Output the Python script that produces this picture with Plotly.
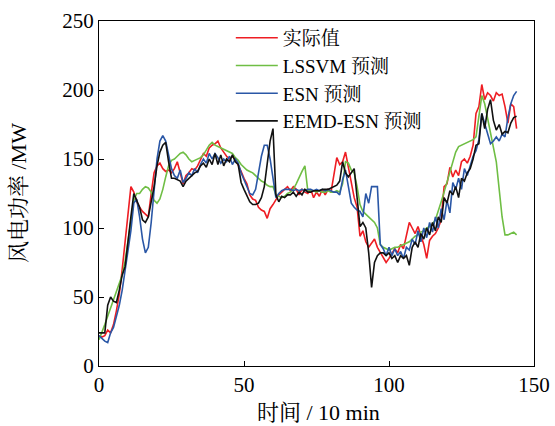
import plotly.graph_objects as go

# Time index (units of 10 min)
t = list(range(145))

# Measured wind power (MW)
actual = [22, 21, 22, 26, 24, 30, 40, 52, 70, 90, 112, 130, 126, 119, 115, 112, 110, 108, 125, 140,
          145, 147, 143, 141, 142, 140, 143, 148, 140, 132, 138, 140, 143, 142, 145, 150, 154, 152, 158, 160,
          161, 163, 158, 155, 152, 150, 152, 150, 146, 141, 136, 132, 124, 121, 120, 115, 113, 112, 107, 114,
          117, 121, 124, 126, 128, 130, 127, 130, 128, 124, 128, 126, 125, 128, 122, 126, 123, 128, 124, 128,
          126, 140, 151, 146, 148, 155, 144, 132, 122, 115, 94, 98, 90, 86, 89, 92, 86, 82, 78, 75,
          78, 82, 85, 82, 88, 85, 95, 104, 100, 96, 101, 94, 88, 78, 91, 94, 96, 100, 106, 130,
          132, 144, 137, 142, 138, 148, 150, 147, 152, 160, 183, 188, 204, 193, 198, 196, 192, 198, 196, 197,
          188, 176, 190, 188, 172]

# LSSVM forecast (MW)
lssvm = [19, 24, 30, 36, 42, 48, 54, 60, 66, 76, 92, 108, 120, 125, 125, 128, 130, 129, 126, 120,
         118, 121, 128, 137, 145, 149, 150, 152, 154, 155, 153, 150, 148, 149, 150, 151, 153, 157, 160, 162,
         160, 159, 158, 157, 156, 155, 154, 151, 149, 146, 144, 142, 141, 140, 138, 136, 134, 133, 131, 130,
         130, 124, 123, 122, 123, 125, 126, 128, 132, 137, 141, 145, 127, 127, 127, 126, 127, 126, 126, 127,
         126, 126, 127, 126, 132, 148, 147, 142, 140, 130, 117, 112, 110, 108, 106, 104, 100, 88, 86, 85,
         84, 85, 86, 86, 87, 88, 89, 90, 92, 94, 95, 97, 98, 100, 101, 103, 106, 112, 119, 126,
         133, 140, 148, 155, 159, 160, 161, 162, 163, 164, 166, 180, 196, 190, 180, 170, 160, 148, 128, 108,
         95, 95, 96, 97, 95]

# ESN forecast (MW)
esn = [22, 20, 18, 17, 24, 28, 36, 44, 55, 70, 85, 98, 118, 121, 108, 92, 82, 86, 104, 128,
       150, 163, 167, 163, 152, 143, 138, 136, 142, 133, 136, 140, 138, 143, 140, 146, 150, 147, 154, 150,
       154, 151, 147, 150, 148, 152, 146, 150, 147, 140, 135, 130, 125, 124, 128, 140, 152, 160, 160, 150,
       137, 122, 125, 127, 128, 128, 128, 127, 128, 127, 128, 127, 128, 128, 127, 128, 127, 128, 127, 128,
       127, 126, 126, 124, 135, 142, 130, 118, 115, 113, 112, 108, 125, 118, 130, 130, 130, 88, 85, 80,
       86, 80, 85, 80, 83, 78, 86, 84, 92, 88, 98, 90, 100, 93, 104, 97, 108, 100, 114, 106,
       120, 111, 133, 128, 136, 128, 143, 138, 145, 152, 156, 164, 183, 176, 168, 161, 163, 166, 163, 168,
       166, 180, 190, 196, 199]

# EEMD-ESN forecast (MW)
eemd_esn = [24, 24, 24, 44, 50, 47, 46, 55, 66, 72, 88, 108, 125, 120, 115, 106, 104, 108, 118, 130,
            145, 155, 160, 162, 148, 136, 136, 135, 134, 130, 134, 136, 138, 140, 141, 145, 147, 144, 150, 146,
            154, 146, 153, 145, 150, 148, 153, 148, 146, 133, 128, 124, 119, 117, 117, 118, 122, 130, 145, 163,
            172, 124, 119, 123, 122, 124, 124, 126, 123, 126, 124, 128, 126, 126, 127, 127, 127, 128, 128, 128,
            129, 130, 131, 134, 148, 140, 137, 140, 143, 122, 101, 104, 100, 82, 57, 75, 80, 82, 82, 80,
            82, 78, 80, 75, 80, 78, 80, 73, 86, 90, 86, 96, 92, 100, 95, 104, 98, 108, 104, 122,
            118, 127, 124, 130, 122, 136, 134, 140, 143, 150, 160, 161, 183, 172, 186, 193, 178, 171, 175, 168,
            170, 169, 176, 180, 181]

series = [
    ("实际值", actual, "#ee1d23"),
    ("LSSVM 预测", lssvm, "#6fbe44"),
    ("ESN 预测", esn, "#2a57a6"),
    ("EEMD-ESN 预测", eemd_esn, "#111111"),
]

x_ticks = [0, 50, 100, 150]
y_ticks = [0, 50, 100, 150, 200, 250]

FONT = "Liberation Serif, 'Noto Serif CJK SC', 'Noto Sans CJK SC', serif"

fig = go.Figure()
for name, vals, color in series:
    fig.add_trace(go.Scatter(x=t, y=vals, mode="lines", name=name,
                             line=dict(color=color, width=1.6)))

axis_common = dict(showline=True, linecolor="black", linewidth=1.3, mirror=True,
                   ticks="inside", ticklen=5, tickcolor="black", tickwidth=1,
                   showgrid=False, zeroline=False, automargin=False,
                   tickfont=dict(family=FONT, size=21, color="black"))

fig.update_xaxes(range=[0, 150], tickvals=x_ticks, **axis_common)
fig.update_yaxes(range=[0, 250], tickvals=y_ticks, **axis_common)

fig.update_layout(
    width=555, height=426,
    margin=dict(l=99, r=21, t=21, b=60, autoexpand=False),
    plot_bgcolor="white", paper_bgcolor="white",
    font=dict(family=FONT, color="black"),
    legend=dict(x=0.303, y=1.006, xanchor="left", yanchor="top",
                bgcolor="rgba(0,0,0,0)", borderwidth=0, itemwidth=42,
                font=dict(family=FONT, size=19, color="black")),
    annotations=[
        dict(text="时间 / 10 min", xref="paper", yref="paper", x=0.505, y=-0.135,
             xanchor="center", yanchor="middle", showarrow=False,
             font=dict(family=FONT, size=22, color="black")),
        dict(text="风电功率 /MW", xref="paper", yref="paper", x=-0.185, y=0.5,
             xanchor="center", yanchor="middle", showarrow=False, textangle=-90,
             font=dict(family=FONT, size=22, color="black")),
    ],
)

fig.write_html("out.html")
